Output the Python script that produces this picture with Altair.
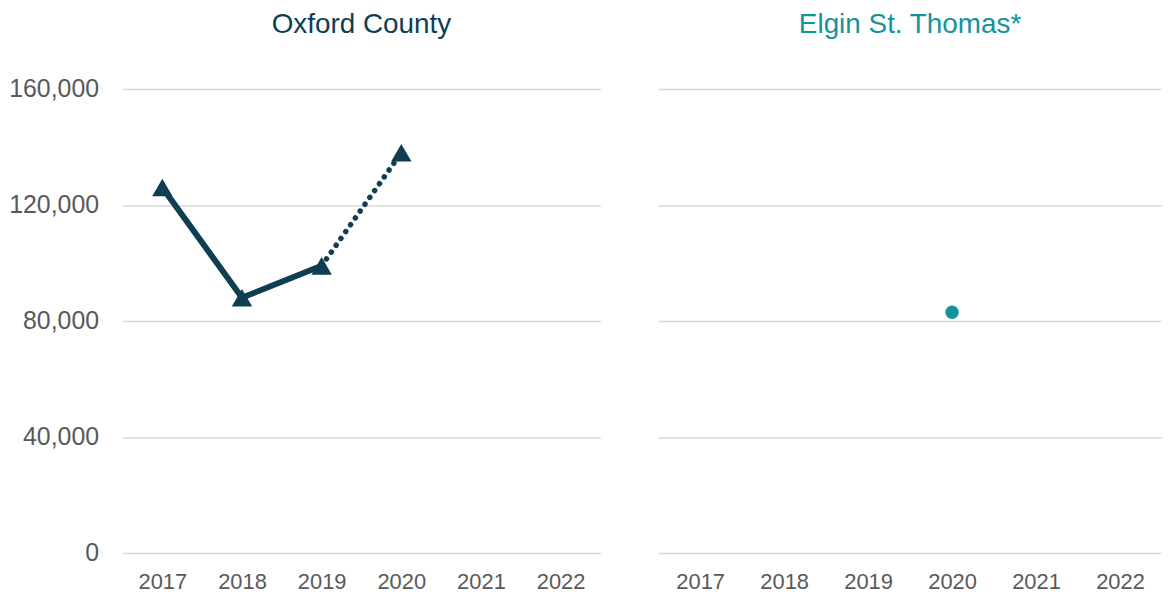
import altair as alt
import pandas as pd

years = ["2017", "2018", "2019", "2020", "2021", "2022"]
oxford_years = ["2017", "2018", "2019", "2020"]
oxford_values = [126000, 88000, 99000, 138000]
oxford_solid = ["2017", "2018", "2019"]
oxford_dotted = ["2019", "2020"]
elgin_years = ["2020"]
elgin_values = [83000]
y_ticks = [0, 40000, 80000, 120000, 160000]

OX = "#0f3e53"
EL = "#14939d"
GRID = "#d9d9d9"
LAB = "#595959"
FONT = "Liberation Sans"

ox_df = pd.DataFrame({"year": oxford_years, "value": oxford_values})
solid_df = ox_df[ox_df["year"].isin(oxford_solid)]
dot_df = ox_df[ox_df["year"].isin(oxford_dotted)]
el_df = pd.DataFrame({"year": elgin_years, "value": elgin_values})

xscale = alt.Scale(type="point", domain=years, padding=0.5)
yscale = alt.Scale(domain=[0, 160000])

def xenc():
    return alt.X("year:N", scale=xscale, title=None,
                 axis=alt.Axis(labelAngle=0, labelFontSize=22, labelColor=LAB, labelFont=FONT,
                               ticks=False, domain=False, grid=False, labelPadding=19))

def yenc(show):
    return alt.Y("value:Q", scale=yscale, title=None,
                 axis=alt.Axis(values=y_ticks, format=",.0f",
                               labels=show, labelFontSize=25, labelColor=LAB, labelFont=FONT,
                               ticks=False, domain=False, grid=True, gridColor=GRID,
                               gridWidth=1.5, labelPadding=24))

line_solid = alt.Chart(solid_df).mark_line(color=OX, strokeWidth=6).encode(x=xenc(), y=yenc(True))
line_dot = alt.Chart(dot_df).mark_line(color=OX, strokeWidth=5.5, strokeDash=[0.1, 8.3], strokeCap="round").encode(x=xenc(), y=yenc(True))
pts = alt.Chart(ox_df).mark_point(shape="triangle-up", filled=True, opacity=1, color=OX, size=420).encode(x=xenc(), y=yenc(True))

left = alt.layer(line_solid, line_dot, pts).properties(
    width=480, height=466,
    title=alt.TitleParams("Oxford County", fontSize=28, font=FONT, fontWeight="normal", color=OX,
                          offset=38, frame="group"))

right = alt.Chart(el_df).mark_circle(color=EL, size=180, opacity=1).encode(x=xenc(), y=yenc(False)).properties(
    width=506, height=466,
    title=alt.TitleParams("Elgin St. Thomas*", fontSize=28, font=FONT, fontWeight="normal", color=EL,
                          offset=50, frame="group"))

chart = alt.hconcat(left, right, spacing=58,
                    padding={"top": 2, "left": 0, "right": 0, "bottom": 0}).configure_view(strokeWidth=0)

chart.save("out.html", embed_options={"renderer": "svg", "actions": False})
